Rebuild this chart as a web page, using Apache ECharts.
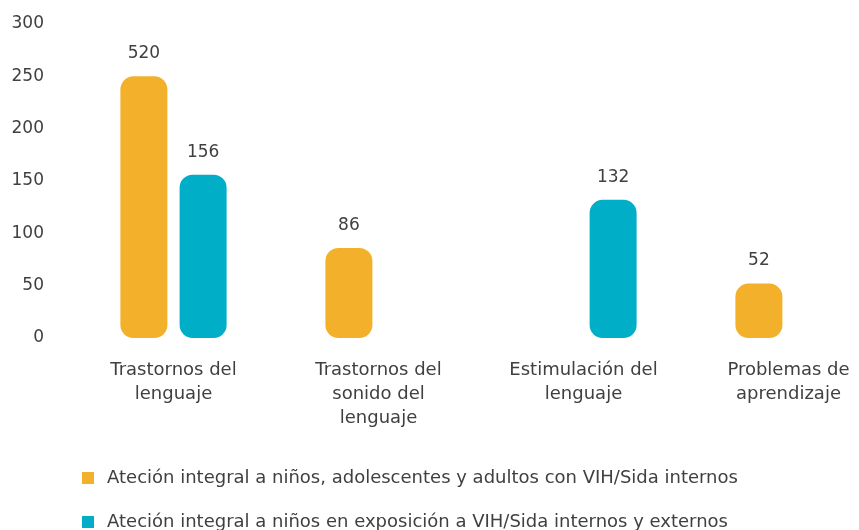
<!DOCTYPE html>
<html><head><meta charset="utf-8">
<script src="https://cdn.jsdelivr.net/npm/echarts@6/dist/echarts.min.js"></script>
<style>html,body{margin:0;padding:0;background:#fff;overflow:hidden}#c{width:900px;height:530px}</style>
</head><body><div id="c"></div>
<script>
const categories = ["Trastornos del\nlenguaje", "Trastornos del\nsonido del\nlenguaje", "Estimulación del\nlenguaje", "Problemas de\naprendizaje"];
const seriesNames = ["Ateción integral a niños, adolescentes y adultos con VIH/Sida internos", "Ateción integral a niños en exposición a VIH/Sida internos y externos"];
const valuesA = [250, 86, null, 52];
const labelsA = ["520", "86", "", "52"];
const valuesB = [156, null, 132, null];
const labelsB = ["156", "", "132", ""];
const yTicks = [0, 50, 100, 150, 200, 250, 300];

const FONT = "DejaVu Sans";
const chart = echarts.init(document.getElementById('c'));
function mk(name, vals, labs, color) {
  return {
    name, type: 'bar', data: vals, barWidth: 47, barGap: '26%',
    itemStyle: { color, borderRadius: 13 },
    label: { show: true, position: 'top', distance: 14, fontFamily: FONT, fontSize: 17, color: '#404040',
      formatter: p => labs[p.dataIndex] },
  };
}
function lg(i, top) {
  return {
    orient: 'vertical', left: 77, top, itemWidth: 12, itemHeight: 12,
    icon: 'rect', textStyle: { fontFamily: FONT, fontSize: 18, color: '#404040', padding: [0, 0, 0, 8] },
    data: [seriesNames[i]],
  };
}
chart.setOption({
  animation: false,
  textStyle: { fontFamily: FONT },
  grid: { left: 71, width: 820, top: 24, bottom: 192, containLabel: false },
  xAxis: {
    type: 'category', data: categories,
    axisLine: { show: false }, axisTick: { show: false },
    axisLabel: { margin: 20, fontFamily: FONT, fontSize: 18, lineHeight: 24, color: '#404040', interval: 0 },
  },
  yAxis: {
    type: 'value', min: yTicks[0], max: yTicks[yTicks.length - 1], interval: 50,
    splitLine: { show: false }, axisLine: { show: false }, axisTick: { show: false },
    axisLabel: { margin: 27, fontFamily: FONT, fontSize: 17, color: '#404040' },
  },
  legend: [lg(0, 464), lg(1, 508)],
  series: [mk(seriesNames[0], valuesA, labelsA, '#F3B12B'), mk(seriesNames[1], valuesB, labelsB, '#00AEC8')],
});
</script></body></html>
